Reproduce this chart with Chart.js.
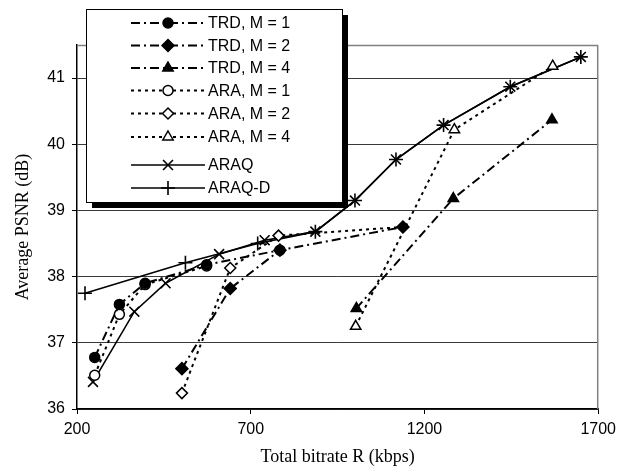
<!DOCTYPE html>
<html>
<head>
<meta charset="utf-8">
<script src="https://cdn.jsdelivr.net/npm/chart.js@4.4.1/dist/chart.umd.min.js"></script>
<style>
html,body{margin:0;padding:0;background:#fff;}
canvas{display:block;}
</style>
</head>
<body>
<canvas id="c" width="622" height="473"></canvas>
<script>
// ---- data (bitrate in kbps, PSNR in dB) ----
const trd1R = [251, 322, 396, 573, 784];
const trd1P = [36.78, 37.58, 37.90, 38.18, 38.40];
const trd2R = [502, 641, 784, 1138];
const trd2P = [36.61, 37.82, 38.40, 38.75];
const trd4R = [1004, 1283, 1567];
const trd4P = [37.52, 39.18, 40.37];
const ara1R = [251, 322, 396, 573];
const ara1P = [36.51, 37.43, 37.88, 38.16];
const ara2R = [502, 641, 780, 1138];
const ara2P = [36.24, 38.13, 38.62, 38.75];
const ara4R = [1002, 1286, 1569];
const ara4P = [37.25, 40.22, 41.18];
const araqR = [246, 365, 455, 609, 740, 886, 1000, 1118, 1255, 1447, 1650];
const araqP = [36.41, 37.47, 37.90, 38.34, 38.55, 38.68, 39.15, 39.77, 40.29, 40.87, 41.32];
const araqdR = [223, 512, 720, 886, 1000, 1118, 1255, 1447, 1650];
const araqdP = [37.75, 38.21, 38.50, 38.68, 39.15, 39.77, 40.29, 40.87, 41.32];
const seriesNames = ["TRD, M = 1", "TRD, M = 2", "TRD, M = 4", "ARA, M = 1", "ARA, M = 2", "ARA, M = 4", "ARAQ", "ARAQ-D"];
const xTicks = [200, 700, 1200, 1700];
const yTicks = [36, 37, 38, 39, 40, 41];

function pts(xs, ys){ return xs.map((x,i)=>({x:x, y:ys[i]})); }

const TRD_DASH = [9,4,2,4];
const ARA_DASH = [3,4];

function ds(label, xs, ys, style, dash, width, fill, rad){
  return {
    label: label, data: pts(xs, ys), showLine: true,
    borderColor: '#000', borderWidth: width, borderDash: dash,
    pointStyle: style, pointRadius: rad, pointHoverRadius: rad,
    pointBackgroundColor: fill, pointBorderColor: '#000',
    pointBorderWidth: (style === 'cross' || style === 'crossRot') ? 1.6 : 1.5,
    tension: 0
  };
}

const datasets = [
  ds(seriesNames[0], trd1R, trd1P, 'circle', TRD_DASH, 2, '#000', 5),
  ds(seriesNames[1], trd2R, trd2P, 'rectRot', TRD_DASH, 2, '#000', 6),
  ds(seriesNames[2], trd4R, trd4P, 'triangle', TRD_DASH, 2, '#000', 6),
  ds(seriesNames[3], ara1R, ara1P, 'circle', ARA_DASH, 2, '#fff', 5),
  ds(seriesNames[4], ara2R, ara2P, 'rectRot', ARA_DASH, 2, '#fff', 5.5),
  ds(seriesNames[5], ara4R, ara4P, 'triangle', ARA_DASH, 2, '#fff', 6),
  ds(seriesNames[6], araqR, araqP, 'crossRot', [], 1.6, '#000', 7),
  ds(seriesNames[7], araqdR, araqdP, 'cross', [], 1.6, '#000', 7)
];

function drawMarker(ctx, style, x, y, r, fill, bw){
  ctx.save();
  ctx.setLineDash([]);
  ctx.lineWidth = bw;
  ctx.strokeStyle = '#000';
  ctx.fillStyle = fill;
  ctx.beginPath();
  if (style === 'circle') {
    ctx.arc(x, y, r, 0, Math.PI*2);
    ctx.fill(); ctx.stroke();
  } else if (style === 'rectRot') {
    ctx.moveTo(x, y - r); ctx.lineTo(x + r, y); ctx.lineTo(x, y + r); ctx.lineTo(x - r, y); ctx.closePath();
    ctx.fill(); ctx.stroke();
  } else if (style === 'triangle') {
    ctx.moveTo(x, y - r); ctx.lineTo(x + r*0.866, y + r*0.5); ctx.lineTo(x - r*0.866, y + r*0.5); ctx.closePath();
    ctx.fill(); ctx.stroke();
  } else if (style === 'crossRot') {
    const d = r * 0.7071;
    ctx.moveTo(x - d, y - d); ctx.lineTo(x + d, y + d);
    ctx.moveTo(x + d, y - d); ctx.lineTo(x - d, y + d);
    ctx.stroke();
  } else if (style === 'cross') {
    ctx.moveTo(x, y - r); ctx.lineTo(x, y + r);
    ctx.moveTo(x - r, y); ctx.lineTo(x + r, y);
    ctx.stroke();
  }
  ctx.restore();
}

const frameAndLegend = {
  id: 'frameAndLegend',
  beforeDatasetsDraw(chart){
    const a = chart.chartArea, ctx = chart.ctx;
    ctx.save();
    ctx.strokeStyle = '#808080';
    ctx.lineWidth = 1.5;
    ctx.beginPath();
    ctx.moveTo(a.left, a.top + 0.5); ctx.lineTo(a.right, a.top + 0.5);
    ctx.moveTo(a.right - 0.5, a.top); ctx.lineTo(a.right - 0.5, a.bottom);
    ctx.stroke();
    ctx.restore();
  },
  afterDraw(chart){
    const ctx = chart.ctx;
    const L = 86, T = 9, W = 256, H = 193, S = 6;
    ctx.save();
    ctx.fillStyle = '#000';
    ctx.fillRect(L + S, T + S, W, H);
    ctx.fillStyle = '#fff';
    ctx.fillRect(L, T, W, H);
    ctx.strokeStyle = '#000';
    ctx.lineWidth = 1;
    ctx.strokeRect(L + 0.5, T + 0.5, W, H);
    const rows = [23, 45.5, 68, 90.5, 113.5, 137, 165, 188];
    ctx.font = '16px "Liberation Sans", Arial, sans-serif';
    ctx.textBaseline = 'middle';
    ctx.textAlign = 'left';
    chart.data.datasets.forEach((d, i) => {
      const y = rows[i];
      ctx.save();
      ctx.strokeStyle = '#000';
      ctx.lineWidth = d.borderWidth;
      ctx.setLineDash(d.borderDash || []);
      ctx.beginPath();
      ctx.moveTo(131, y); ctx.lineTo(205, y);
      ctx.stroke();
      ctx.restore();
      drawMarker(ctx, d.pointStyle, 168, y, d.pointRadius, d.pointBackgroundColor, d.pointBorderWidth);
      ctx.fillStyle = '#000';
      ctx.fillText(d.label, 208, y + 1);
    });
    ctx.restore();
  }
};

new Chart(document.getElementById('c'), {
  type: 'scatter',
  data: { datasets: datasets },
  options: {
    responsive: false,
    animation: false,
    devicePixelRatio: 1,
    layout: { padding: { top: 45, right: 17, left: 0, bottom: 0 } },
    plugins: { legend: { display: false }, tooltip: { enabled: false } },
    scales: {
      x: {
        type: 'linear', min: 200, max: 1700,
        afterBuildTicks: (s) => { s.ticks = xTicks.map(v => ({ value: v })); },
        afterFit: (s) => { s.height = 64; },
        ticks: { color: '#000', font: { family: '"Liberation Sans", Arial, sans-serif', size: 16 }, padding: 6, maxRotation: 0,
                 callback: (v) => String(v) },
        grid: { display: true, drawOnChartArea: false, tickLength: 5, color: '#000', tickColor: '#000' },
        border: { color: '#000', width: 1.5 },
        title: { display: true, text: 'Total bitrate R (kbps)', color: '#000',
                 font: { family: '"Liberation Serif", "Times New Roman", serif', size: 18 },
                 padding: { top: 0, bottom: 5 } }
      },
      y: {
        type: 'linear', min: 36, max: 41.5,
        afterBuildTicks: (s) => { s.ticks = yTicks.map(v => ({ value: v })); },
        afterFit: (s) => { s.width = 77; },
        ticks: { color: '#000', font: { family: '"Liberation Sans", Arial, sans-serif', size: 16 }, padding: 7,
                 callback: (v) => String(v) },
        grid: { display: true, color: '#3a3a3a', lineWidth: 1, tickLength: 5, tickColor: '#000' },
        border: { color: '#000', width: 1.5 },
        title: { display: true, text: 'Average PSNR (dB)', color: '#000',
                 font: { family: '"Liberation Serif", "Times New Roman", serif', size: 18 },
                 padding: { top: 12, bottom: 0 } }
      }
    }
  },
  plugins: [frameAndLegend]
});
</script>
</body>
</html>
